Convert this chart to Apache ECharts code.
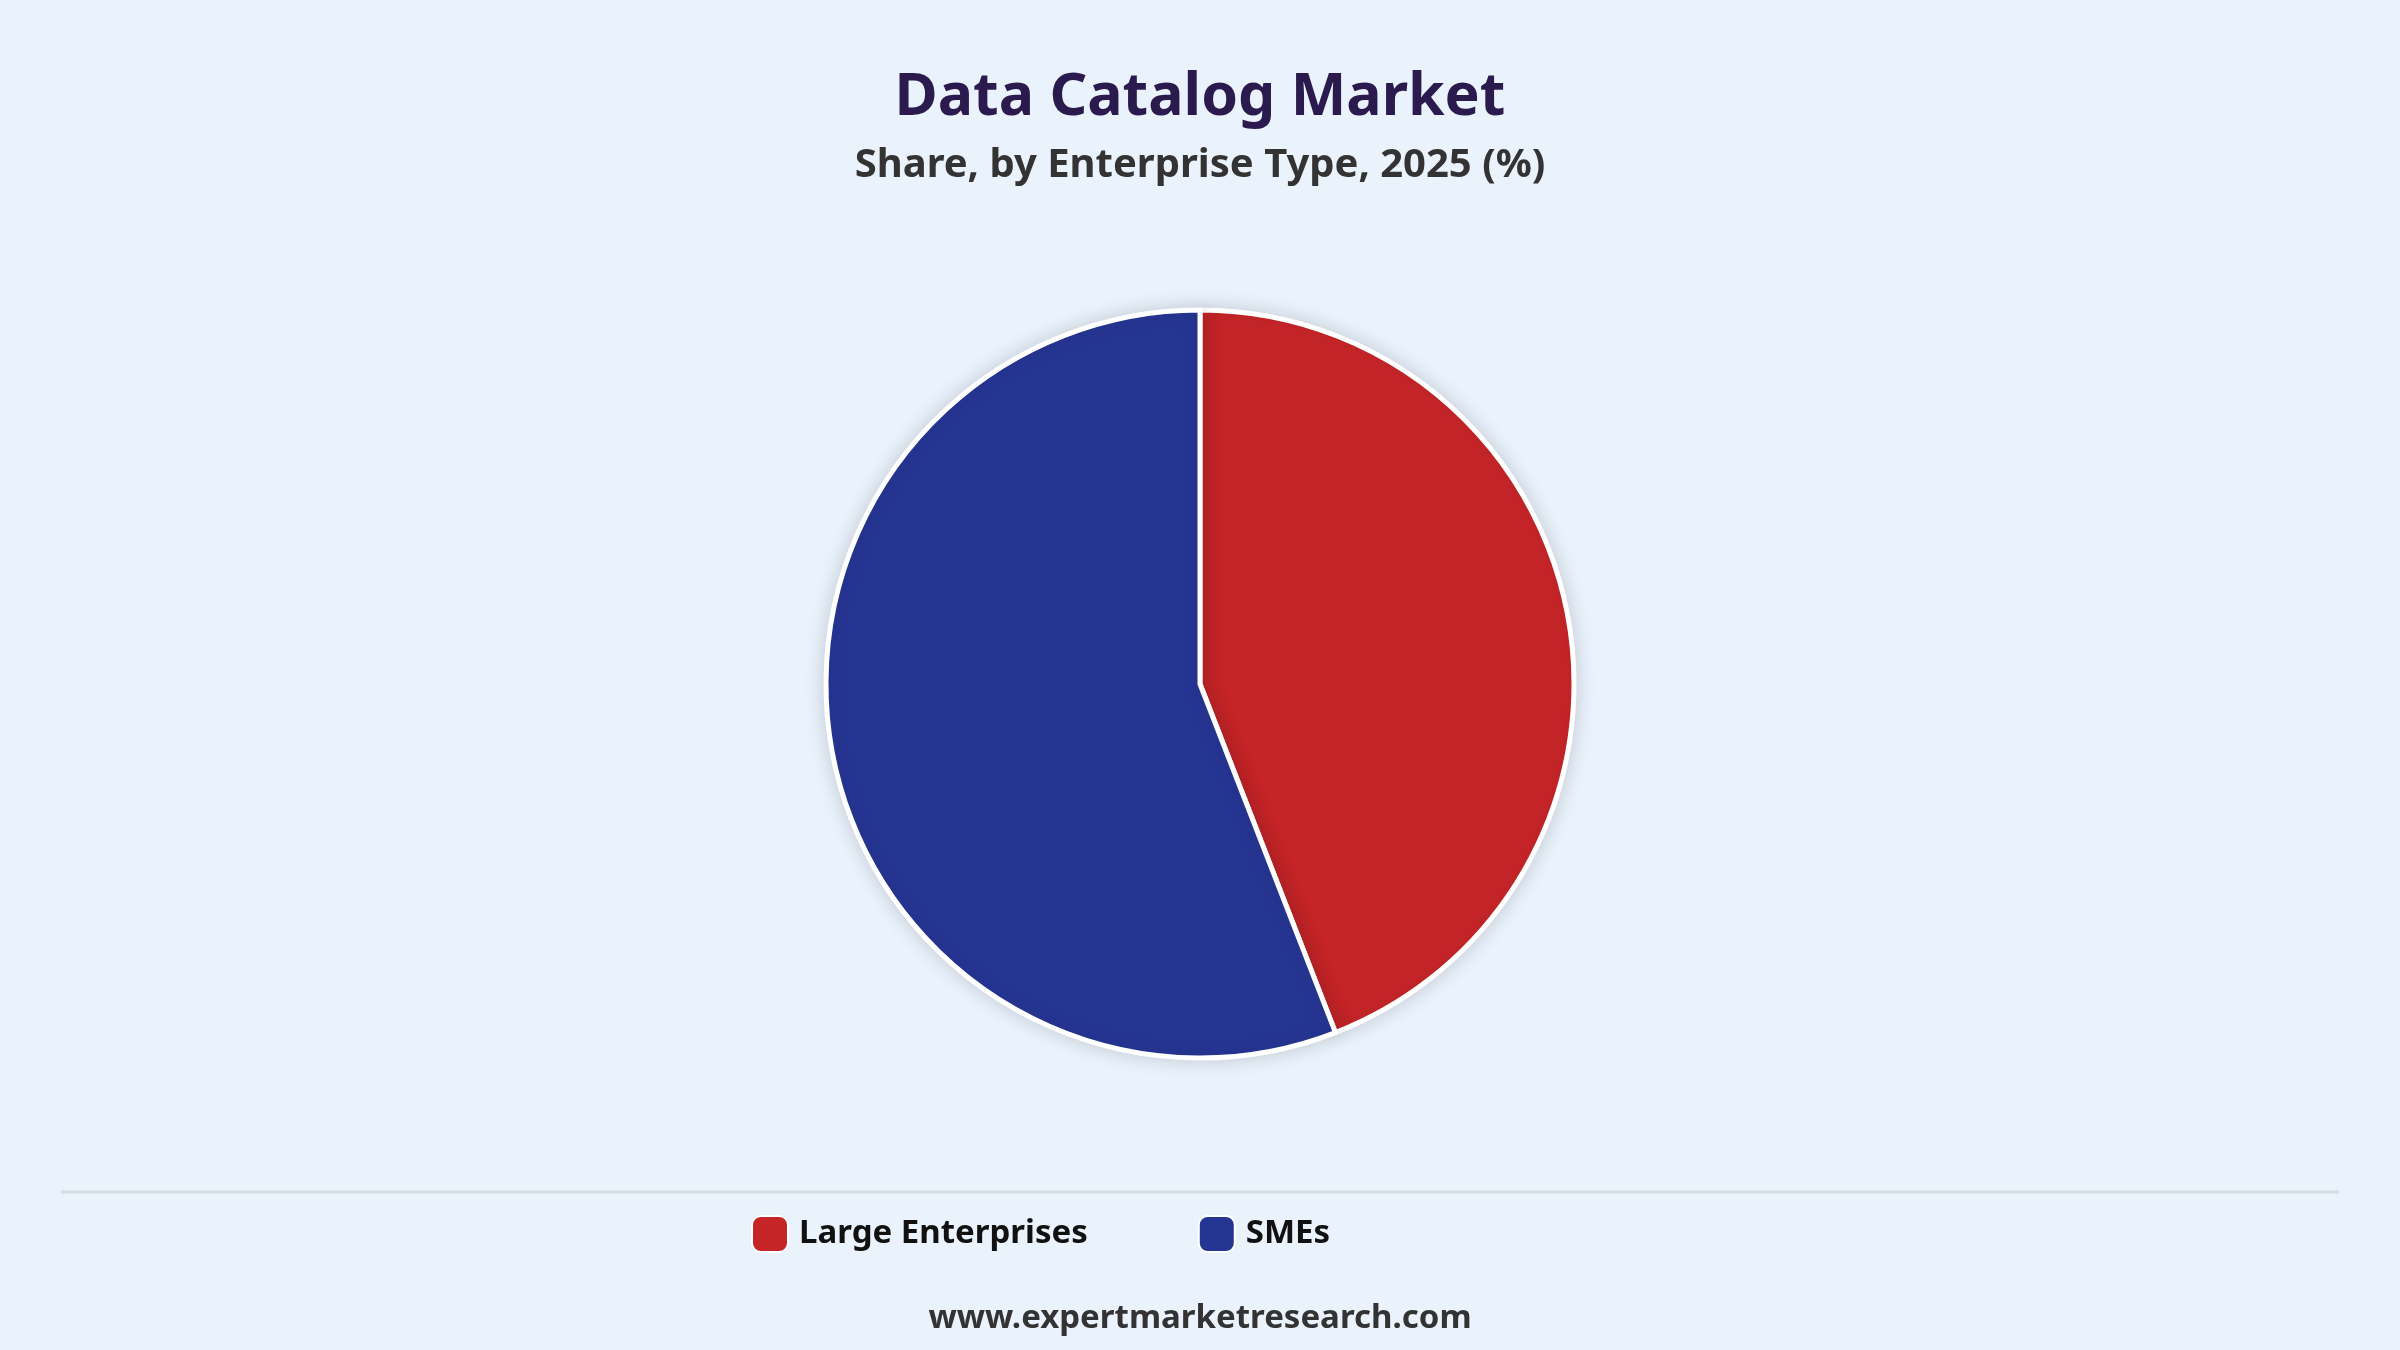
<!DOCTYPE html>
<html><head><meta charset="utf-8">
<script src="https://cdn.jsdelivr.net/npm/echarts@6/dist/echarts.min.js"></script>
<style>html,body{margin:0;padding:0;background:#eaf2fc}#c{width:2400px;height:1350px}</style>
</head><body><div id="c"></div>
<script>
const categories = ["Large Enterprises", "SMEs"];
const shares = [44.1, 55.9];
const colors = ["#c62528", "#253592"];
const chart = echarts.init(document.getElementById('c'));
chart.setOption({
  backgroundColor: '#eaf2fc',
  title: [{
    text: 'Data Catalog Market', left: 'center', top: 64,
    textStyle: {fontFamily: 'Noto Sans', fontWeight: 'bold', fontSize: 59, color: '#2a1a4e'}
  }, {
    text: 'Share, by Enterprise Type, 2025 (%)', left: 'center', top: 141,
    textStyle: {fontFamily: 'Noto Sans', fontWeight: 'bold', fontSize: 40, color: '#333'}
  }, {
    text: 'www.expertmarketresearch.com', left: 'center', top: 1297,
    textStyle: {fontFamily: 'Noto Sans', fontWeight: 'bold', fontSize: 33, color: '#333'}
  }],
  legend: {
    top: 1210, left: 746, itemGap: 110, itemWidth: 36, itemHeight: 36,
    icon: 'roundRect',
    textStyle: {fontFamily: 'Noto Sans', fontWeight: 'bold', fontSize: 33, color: '#111', padding: [0,0,0,6]}
  },
  graphic: [{type: 'line', shape: {x1: 61, y1: 1192, x2: 2339, y2: 1192}, style: {stroke: '#d8dde3', lineWidth: 3}}],
  series: [{
    type: 'pie', center: [1200, 684], radius: 374, startAngle: 90, clockwise: true,
    label: {show: false}, labelLine: {show: false},
    itemStyle: {borderColor: '#fff', borderWidth: 5, shadowBlur: 20, shadowColor: 'rgba(0,0,0,0.15)'},
    emphasis: {disabled: true},
    data: categories.map((c, i) => ({name: c, value: shares[i], itemStyle: {color: colors[i]}}))
  }]
});
</script></body></html>
